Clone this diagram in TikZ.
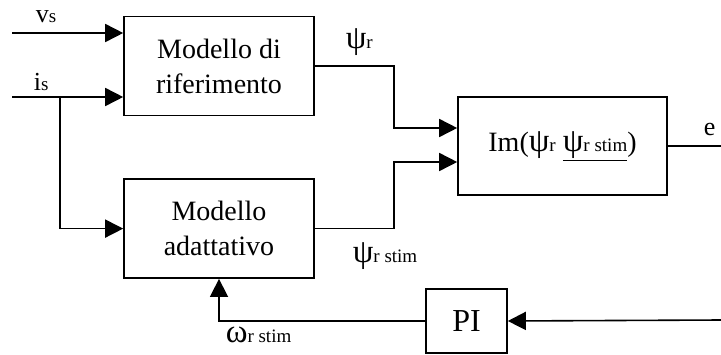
\documentclass[tikz,border=0pt]{standalone}
\usepackage{fontspec}
\setmainfont{Liberation Serif}
\usetikzlibrary{arrows.meta, positioning}
\newcommand{\pedice}[1]{{\fontsize{19}{19}\selectfont #1}}
\newcommand{\grande}[1]{{\fontsize{33}{33}\selectfont #1}}

\begin{document}
\begin{tikzpicture}[x=1pt, y=-1pt, line width=1.6pt, node distance=62pt,
        blocco/.style={draw, minimum width=190pt, minimum height=99pt, inner sep=0pt,
            align=center, font=\fontsize{28}{35}\selectfont},
        freccia/.style={-{Triangle[length=18pt, width=18pt]}},
        etich/.style={anchor=base west, inner sep=0pt, font=\fontsize{26}{26}\selectfont}]
        \useasboundingbox (0,0) rectangle (721,354);

        \node[blocco] (rif) at (219,66) {Modello di\\riferimento};
        \node[blocco] (adat) [below=of rif] {Modello\\adattativo};
        \node[blocco, minimum width=209pt, minimum height=98pt] (im) at (562.5,146)
            {Im(\grande{ψ}\pedice{r} \underline{\grande{ψ}\pedice{r stim}})};
        \node[blocco, minimum width=81pt, minimum height=64pt, font=\fontsize{32}{32}\selectfont] (pi) at (466.5,321) {PI};

        \coordinate (vs) at (12,33);
        \coordinate (is) at (12,97);
        \coordinate (nodo) at (60,97);
        \coordinate (eout) at (721,146);
        \coordinate (err) at (721,320);

        \draw[freccia] (vs) -- (vs -| rif.west);
        \draw[freccia] (is) -- (is -| rif.west);
        \draw[freccia] (nodo) |- (adat.west);
        \draw[freccia] (rif.east) -- ++(79,0) |- ([yshift=18pt]im.west);
        \draw[freccia] (adat.east) -- ++(79,0) |- ([yshift=-16pt]im.west);
        \draw (im.east) -- (eout);
        \draw[freccia] (err) -- (pi.east);
        \draw[freccia] (pi.west) -| (adat.south);

        \node[etich] (lvs) at (35,22) {v\pedice{s}};
        \node[etich] (lis) at (33,90) {i\pedice{s}};
        \node[etich] (lpsi) at (345,48) {\grande{ψ}\pedice{r}};
        \node[etich] (lpsis) at (352,262) {\grande{ψ}\pedice{r stim}};
        \node[etich] (le) at (703,135) {e};
        \node[etich] (lom) at (225,342) {\grande{ω}\pedice{r stim}};
\end{tikzpicture}
\end{document}
